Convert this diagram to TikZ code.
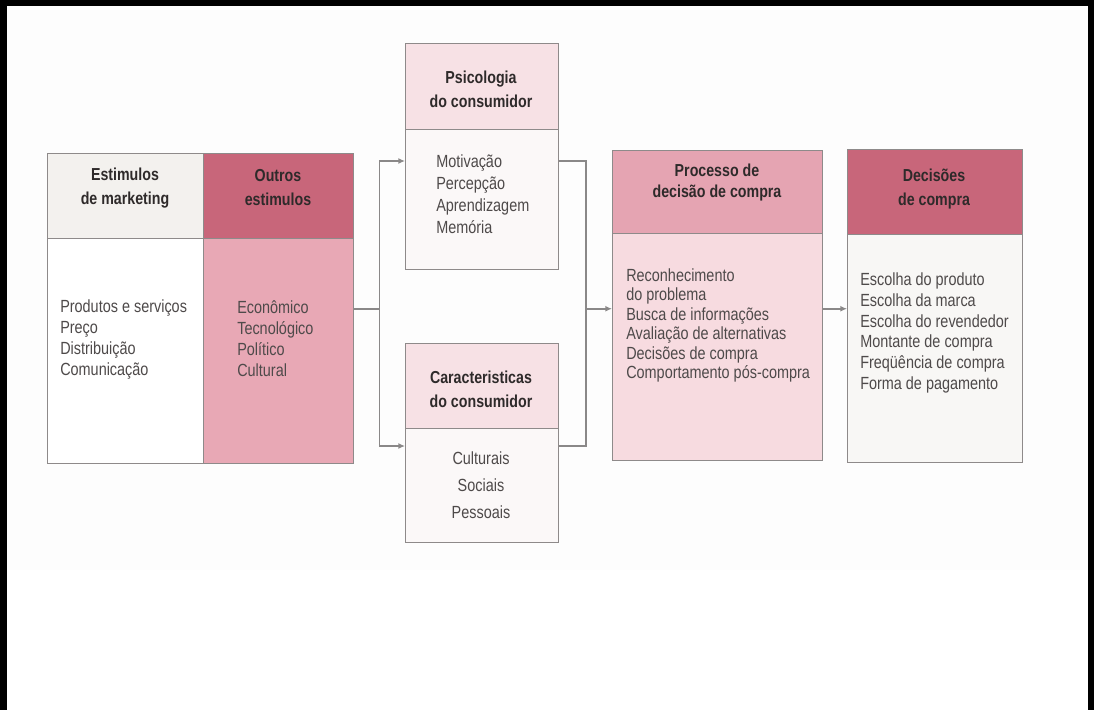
\documentclass[tikz,border=0pt]{standalone}
\usepackage{fontspec}
\setmainfont[FakeStretch=0.82]{Liberation Sans}
\usetikzlibrary{arrows.meta}
\definecolor{frameline}{HTML}{8E8A8A}
\definecolor{connline}{HTML}{8A8888}
\definecolor{hdrtext}{HTML}{2E2A2A}
\definecolor{bodytext}{HTML}{4E4A4A}
\definecolor{lightgrey}{HTML}{F3F1EE}
\definecolor{darkrose}{HTML}{C8667A}
\definecolor{midrose}{HTML}{E8A8B5}
\definecolor{paleprose}{HTML}{F7E1E5}
\definecolor{offwhite}{HTML}{FBF8F8}
\definecolor{prohdr}{HTML}{E5A4B2}
\definecolor{probody}{HTML}{F7DBE0}
\definecolor{decbody}{HTML}{F8F7F5}
\definecolor{bgband}{HTML}{FDFDFD}
\tikzset{
  box/.style={draw=frameline, line width=1.1pt, rectangle, inner sep=0pt, anchor=north west},
  hdr/.style={font=\bfseries\fontsize{13}{18}\selectfont, text=hdrtext, align=center, inner sep=0pt},
  lst/.style={text=bodytext, align=left, inner sep=0pt, anchor=west},
  conn/.style={draw=connline, line width=1.3pt},
  arr/.style={conn, -{Latex[length=5pt,width=4.5pt]}}
}
\begin{document}
\begin{tikzpicture}[x=0.75pt,y=-0.75pt]
\useasboundingbox (0,0) rectangle (1094,710);
% background band and frame
\fill[bgband] (7,6) rectangle (1088,570);
\fill[black] (0,0) rectangle (1094,6);
\fill[black] (0,0) rectangle (7,710);
\fill[black] (1088,0) rectangle (1094,710);

% left block
\node[box, fill=lightgrey, minimum width=117pt, minimum height=63.75pt] (esth) at (47,153) {};
\node[box, fill=white, minimum width=117pt, minimum height=168.75pt] (estb) at (47,238) {};
\node[box, fill=darkrose, minimum width=112.5pt, minimum height=63.75pt] (outh) at (203,153) {};
\node[box, fill=midrose, minimum width=112.5pt, minimum height=168.75pt] (outb) at (203,238) {};
\node[box, minimum width=229.5pt, minimum height=232.5pt] (stim) at (47,153) {};

\node[hdr] (esttx) at (125,188) {Estimulos\\de marketing};
\node[hdr] (outtx) at (278,188) {Outros\\estimulos};
\node[lst, font=\fontsize{13.2}{15.75}\selectfont] (estl) at (60,339)
  {Produtos e serviços\\Preço\\Distribuição\\Comunicação};
\node[lst, font=\fontsize{13.2}{15.75}\selectfont] (outl) at (237,339)
  {Econômico\\Tecnológico\\Político\\Cultural};

% psicologia
\node[box, fill=paleprose, minimum width=114.75pt, minimum height=64.5pt] (psih) at (405,43) {};
\node[box, fill=offwhite, minimum width=114.75pt, minimum height=105pt] (psib) at (405,129) {};
\node[hdr] (psitx) at (481,89.5) {Psicologia\\do consumidor};
\node[lst, font=\fontsize{13.2}{16.5}\selectfont] (psil) at (436,194)
  {Motivação\\Percepção\\Aprendizagem\\Memória};

% caracteristicas
\node[box, fill=paleprose, minimum width=114.75pt, minimum height=63.75pt] (carh) at (405,343) {};
\node[box, fill=offwhite, minimum width=114.75pt, minimum height=85.5pt] (carb) at (405,428) {};
\node[hdr] (cartx) at (481,389.5) {Caracteristicas\\do consumidor};
\node[text=bodytext, align=center, inner sep=0pt, font=\fontsize{13.2}{20.25}\selectfont] (carl) at (481,485)
  {Culturais\\Sociais\\Pessoais};

% processo
\node[box, fill=prohdr, minimum width=157.5pt, minimum height=62.25pt] (proh) at (612,150) {};
\node[box, fill=probody, minimum width=157.5pt, minimum height=170.25pt] (prob) at (612,233) {};
\node[hdr, font=\bfseries\fontsize{13}{15.75}\selectfont] (protx) at (717,182.5) {Processo de\\decisão de compra};
\node[lst, font=\fontsize{13.2}{14.6}\selectfont] (prol) at (626,325.5)
  {Reconhecimento\\do problema\\Busca de informações\\Avaliação de alternativas\\Decisões de compra\\Comportamento pós-compra};

% decisoes
\node[box, fill=darkrose, minimum width=131.25pt, minimum height=63.75pt] (dech) at (847,149) {};
\node[box, fill=decbody, minimum width=131.25pt, minimum height=171pt] (decb) at (847,234) {};
\node[hdr] (dectx) at (934,189) {Decisões\\de compra};
\node[lst, font=\fontsize{13.2}{15.6}\selectfont] (decl) at (860,333)
  {Escolha do produto\\Escolha da marca\\Escolha do revendedor\\Montante de compra\\Freqüência de compra\\Forma de pagamento};

% connectors
\path (stim.east) -- ++(25,0) coordinate (jl);
\coordinate (psiin) at (405,161);
\coordinate (carin) at (405,446);
\path (prob.west |- jl) -- ++(-26,0) coordinate (jr);
\draw[conn] (stim.east) -- (jl);
\draw[arr] (jl) |- (psib.west |- psiin);
\draw[arr] (jl) |- (carb.west |- carin);
\draw[conn] (psib.east |- psiin) -| (jr);
\draw[conn] (carb.east |- carin) -| (jr);
\draw[arr] (jr) -- (prob.west |- jr);
\draw[arr] (prob.east |- jr) -- (decb.west |- jr);
\end{tikzpicture}
\end{document}
